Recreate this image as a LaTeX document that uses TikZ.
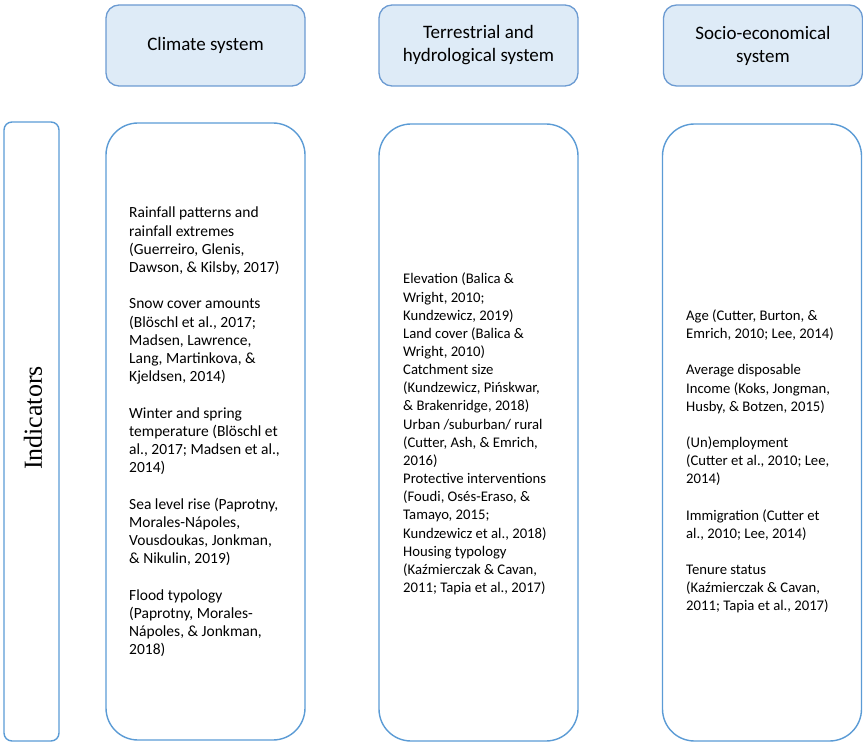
\documentclass[tikz,border=0pt]{standalone}
\usepackage{fontspec}
\setmainfont{Carlito}
\newfontfamily\serifind{Liberation Serif}
\definecolor{boxblue}{HTML}{5B9BD5}
\definecolor{hdrfill}{HTML}{DEEBF7}
\definecolor{hdrline}{HTML}{6C9BD2}
\begin{document}
\begin{tikzpicture}[x=1pt,y=-1pt,
  hdr/.style={draw=hdrline, fill=hdrfill, line width=1.3pt, rounded corners=13pt,
    minimum width=199pt, minimum height=81pt, align=center, inner sep=0pt,
    font=\fontsize{19}{23}\selectfont},
  bigbox/.style={draw=boxblue, line width=1.4pt, rounded corners=32pt,
    minimum width=199pt, minimum height=617pt, inner sep=0pt},
  indbox/.style={draw=boxblue, line width=1.4pt, rounded corners=8pt,
    minimum width=55pt, minimum height=619pt, inner sep=0pt},
  txt/.style={anchor=west, align=left, inner sep=0pt,
    font=\fontsize{14.7}{18.15}\selectfont},
  txtbig/.style={txt, font=\fontsize{15.5}{18.2}\selectfont}
]
\useasboundingbox (0,0) rectangle (863,743);
% headers
\node[hdr] (h1) at (205.5,45.5) {Climate system};
\node[hdr] (h2) at (478.5,45.5) {Terrestrial and\\hydrological system};
\node[hdr] (h3) at (763,45.5) {Socio-economical\\system};
% indicators box
\node[indbox] (ind) at (31.5,431.5) {};
\node[rotate=90, font=\serifind\fontsize{26}{30}\selectfont, inner sep=0pt] (indt) at (33,418) {Indicators};
% big boxes
\node[bigbox] (b1) at (205.5,431.5) {};
\node[bigbox] (b2) at (478.5,432.5) {};
\node[bigbox] (b3) at (762,432.5) {};
% texts
\node[txtbig] (t1) at (129,432) {Rainfall patterns and\\rainfall extremes\\(Guerreiro, Glenis,\\Dawson, \& Kilsby, 2017)\\[18.2pt]
Snow cover amounts\\(Blöschl et al., 2017;\\Madsen, Lawrence,\\Lang, Martinkova, \&\\Kjeldsen, 2014)\\[18.2pt]
Winter and spring\\temperature (Blöschl et\\al., 2017; Madsen et al.,\\2014)\\[18.2pt]
Sea level rise (Paprotny,\\Morales-Nápoles,\\Vousdoukas, Jonkman,\\\& Nikulin, 2019)\\[18.2pt]
Flood typology\\(Paprotny, Morales-\\Nápoles, \& Jonkman,\\2018)};
\node[txt] (t2) at (403,434) {Elevation (Balica \&\\Wright, 2010;\\Kundzewicz, 2019)\\Land cover (Balica \&\\Wright, 2010)\\Catchment size\\(Kundzewicz, Pińskwar,\\\& Brakenridge, 2018)\\Urban /suburban/ rural\\(Cutter, Ash, \& Emrich,\\2016)\\Protective interventions\\(Foudi, Osés-Eraso, \&\\Tamayo, 2015;\\Kundzewicz et al., 2018)\\Housing typology\\(Kaźmierczak \& Cavan,\\2011; Tapia et al., 2017)};
\node[txt] (t3) at (686,461.5) {Age (Cutter, Burton, \&\\Emrich, 2010; Lee, 2014)\\[18.2pt]
Average disposable\\Income (Koks, Jongman,\\Husby, \& Botzen, 2015)\\[18.2pt]
(Un)employment\\(Cutter et al., 2010; Lee,\\2014)\\[18.2pt]
Immigration (Cutter et\\al., 2010; Lee, 2014)\\[18.2pt]
Tenure status\\(Kaźmierczak \& Cavan,\\2011; Tapia et al., 2017)};
\end{tikzpicture}
\end{document}
